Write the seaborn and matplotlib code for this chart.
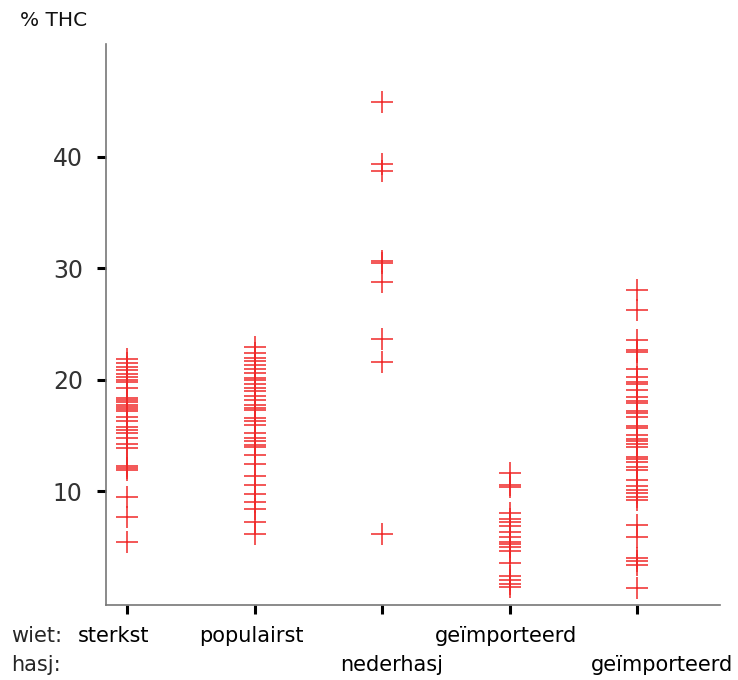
import matplotlib
matplotlib.use("Agg")
import matplotlib.pyplot as plt
import matplotlib.transforms as mtransforms
import seaborn as sns
import pandas as pd

# ---- data ----
groups = ["sterkst", "populairst", "nederhasj", "geïmporteerd wiet", "geïmporteerd hasj"]

sterkst = [21.9, 21.5, 21.2, 20.9, 20.5, 20.3, 20.0, 19.8, 19.3, 18.4, 18.2, 18.0,
           17.8, 17.6, 17.4, 17.2, 16.7, 16.3, 15.8, 15.5, 15.2, 14.8, 14.3, 13.9,
           12.3, 12.1, 11.9, 9.5, 7.7, 5.5]
populairst = [23.0, 22.4, 22.0, 21.7, 21.3, 21.0, 20.6, 20.2, 20.0, 19.6, 19.3, 19.0,
              18.6, 18.2, 17.8, 17.5, 17.3, 16.6, 16.3, 16.0, 15.2, 14.8, 14.5, 14.2,
              14.0, 13.3, 12.5, 11.4, 10.6, 9.8, 9.1, 8.4, 7.3, 6.2]
nederhasj = [44.9, 39.4, 38.7, 30.7, 30.5, 28.8, 23.7, 21.6, 6.2]
geimp_wiet = [11.7, 10.6, 10.4, 8.1, 7.5, 7.3, 6.9, 6.4, 5.9, 5.5, 5.3, 5.0, 4.7,
              3.6, 2.4, 2.1, 1.7, 1.4]
geimp_hasj = [28.1, 26.3, 23.6, 22.7, 22.5, 21.0, 20.3, 19.8, 19.6, 19.1, 18.5, 18.1,
              17.9, 17.2, 17.0, 16.7, 15.9, 15.7, 15.1, 14.7, 14.5, 14.3, 14.0, 13.1,
              12.9, 12.6, 12.2, 11.9, 11.0, 10.5, 10.1, 9.9, 9.5, 9.2, 7.0, 5.9, 4.0,
              3.8, 3.4, 1.3]

yticks = [10, 20, 30, 40]
wiet_labels = ["sterkst", "populairst", "", "geïmporteerd", ""]
hasj_labels = ["", "", "nederhasj", "", "geïmporteerd"]

series = [sterkst, populairst, nederhasj, geimp_wiet, geimp_hasj]
df = pd.DataFrame({
    "groep": [g for g, s in zip(groups, series) for _ in s],
    "thc": [v for s in series for v in s],
})

# ---- styling ----
sns.set_style("white")
plt.rcParams["font.family"] = ["DejaVu Sans"]
red = "#f02828"

fig = plt.figure(figsize=(7.38, 6.8), dpi=100)
ax = fig.add_axes([105.7 / 738, 75 / 680, (720 - 105.7) / 738, (605 - 44) / 680])

sns.stripplot(data=df, x="groep", y="thc", order=groups, jitter=False,
              marker="+", color=red, size=15.5, linewidth=1.1, ax=ax)

ax.set_xlim(-0.167, 4.65)
ax.set_ylim(-0.18, 50.13)
ax.set_yticks(yticks)
ax.set_yticklabels([str(t) for t in yticks])
ax.set_xticks(range(len(groups)))
ax.set_xticklabels([""] * len(groups))
ax.set_xlabel("")
ax.set_ylabel("")

for side in ["top", "right"]:
    ax.spines[side].set_visible(False)
for side in ["left", "bottom"]:
    ax.spines[side].set_color("#777777")
    ax.spines[side].set_linewidth(1.2)

ax.tick_params(axis="both", direction="out", length=6.5, width=2.2, color="black",
               labelsize=17, labelcolor="#333333", pad=10, left=True, bottom=True)

# category labels in two rows (wiet / hasj)
trans = mtransforms.blended_transform_factory(ax.transData, fig.transFigure)
wiet_offsets = [-13, -3, 0, -4, 0]   # px shifts of label centres
hasj_offsets = [0, 0, 10, 0, 25]
for i, (lab, off) in enumerate(zip(wiet_labels, wiet_offsets)):
    if lab:
        ax.annotate(lab, xy=(i, 1 - 636 / 680), xycoords=trans,
                    xytext=(off * 0.72, 0), textcoords="offset points",
                    ha="center", va="center", fontsize=15, color="black",
                    annotation_clip=False)
for i, (lab, off) in enumerate(zip(hasj_labels, hasj_offsets)):
    if lab:
        ax.annotate(lab, xy=(i, 1 - 665 / 680), xycoords=trans,
                    xytext=(off * 0.72, 0), textcoords="offset points",
                    ha="center", va="center", fontsize=15, color="black",
                    annotation_clip=False)

fig.text(11 / 738, 1 - 636 / 680, "wiet:", ha="left", va="center", fontsize=15)
fig.text(11 / 738, 1 - 665 / 680, "hasj:", ha="left", va="center", fontsize=15)
fig.text(20 / 738, 1 - 20 / 680, "% THC", ha="left", va="center", fontsize=14.5,
         color="#111111")

fig.savefig("out.png", dpi=100)
